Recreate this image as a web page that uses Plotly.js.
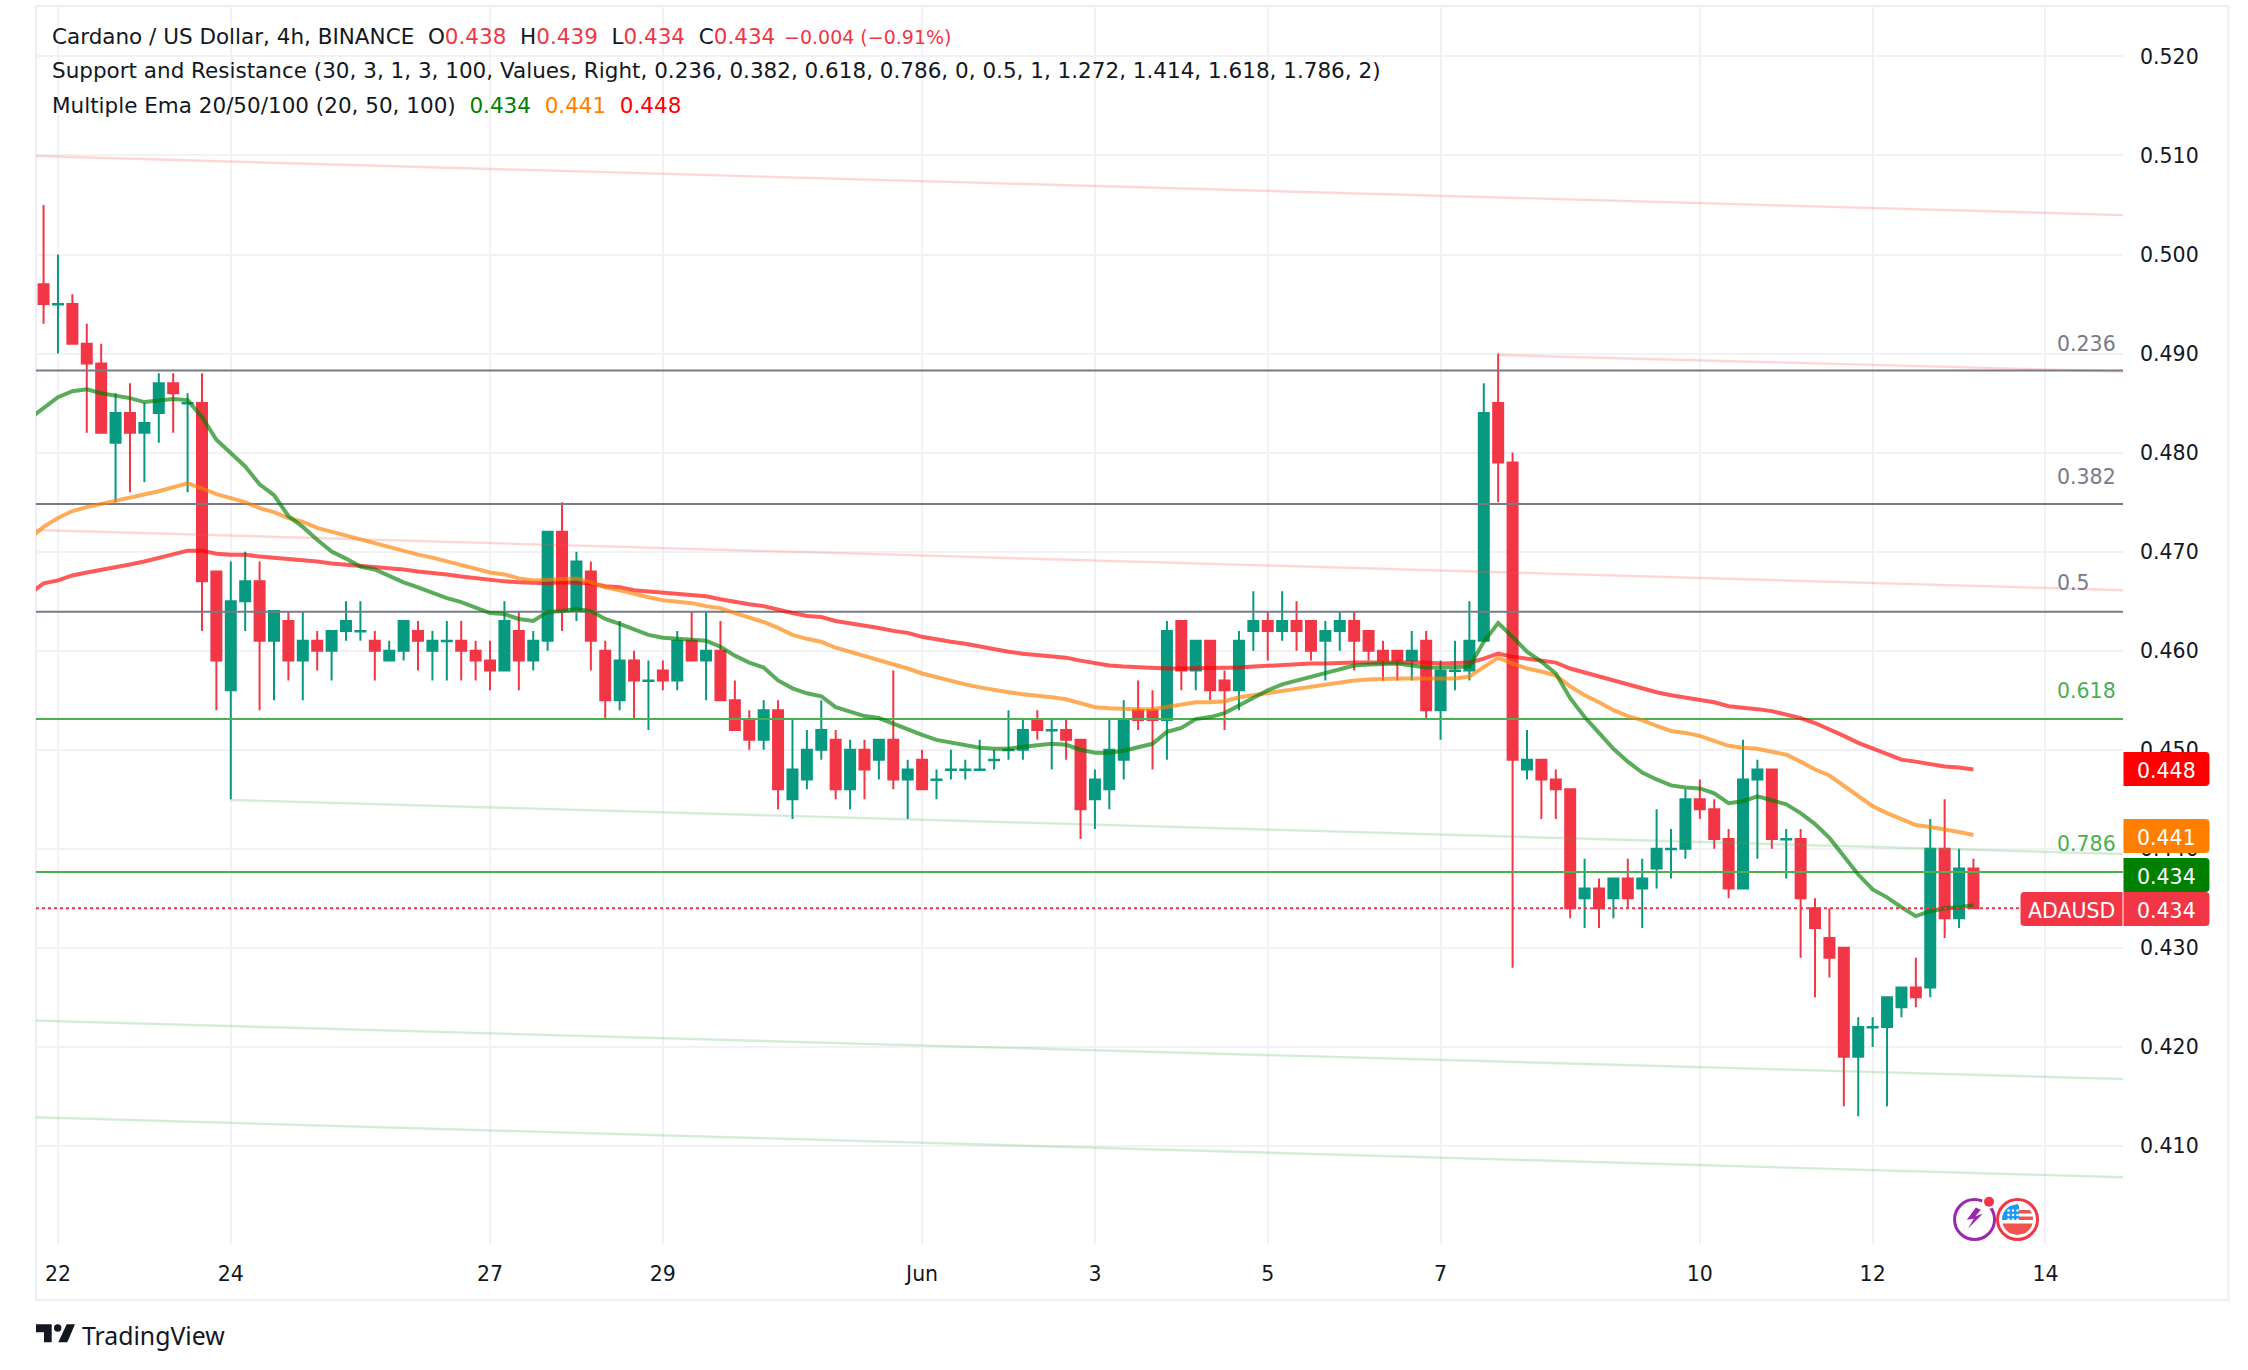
<!DOCTYPE html>
<html><head><meta charset="utf-8">
<script src="https://cdn.plot.ly/plotly-3.0.1.min.js"></script>
<style>html,body{margin:0;padding:0;background:#fff}</style></head>
<body><div id="chart" style="width:2248px;height:1370px"></div>
<script>
// OHLC, 135 four-hour candles
const opens=[.497,.49495,.495,.491,.489,.481,.484,.482,.484,.487,.48495,.485,.468,.456,.465,.467,.461,.463,.459,.461,.460,.462,.46195,.461,.459,.460,.462,.460,.46095,.461,.460,.459,.458,.462,.459,.461,.472,.464,.468,.460,.455,.459,.45695,.458,.457,.461,.459,.460,.455,.453,.451,.454,.445,.447,.450,.451,.446,.450,.449,.451,.447,.449,.44695,.44795,.44795,.44795,.44895,.44995,.450,.453,.45195,.452,.451,.445,.446,.449,.454,.454,.453,.463,.458,.461,.457,.456,.462,.463,.462,.463,.463,.461,.462,.463,.462,.460,.460,.459,.461,.454,.45795,.458,.461,.485,.479,.448,.449,.447,.446,.435,.436,.435,.437,.436,.438,.43995,.440,.445,.444,.441,.436,.447,.448,.44095,.441,.434,.431,.430,.419,.42195,.422,.424,.426,.426,.440,.433,.438];
const highs=[.505,.500,.496,.493,.491,.486,.487,.485,.488,.488,.486,.488,.468,.469,.470,.469,.464,.464,.464,.462,.462,.465,.465,.462,.461,.463,.463,.462,.463,.463,.461,.461,.465,.464,.462,.472,.475,.470,.469,.461,.463,.460,.459,.459,.462,.464,.464,.463,.457,.454,.455,.455,.453,.452,.455,.452,.451,.451,.451,.458,.449,.450,.448,.450,.449,.451,.450,.454,.453,.454,.453,.453,.451,.448,.453,.455,.457,.456,.463,.463,.461,.461,.458,.462,.466,.464,.466,.465,.463,.463,.464,.464,.462,.461,.460,.462,.462,.459,.461,.465,.487,.490,.480,.452,.449,.448,.446,.439,.437,.437,.439,.439,.444,.442,.446,.447,.445,.442,.451,.449,.448,.442,.442,.435,.434,.430,.423,.423,.425,.426,.429,.443,.445,.440,.439];
const lows=[.493,.490,.491,.482,.482,.475,.476,.477,.481,.482,.476,.462,.454,.445,.462,.454,.455,.457,.455,.458,.457,.461,.461,.457,.459,.459,.458,.457,.457,.457,.457,.456,.458,.456,.458,.460,.462,.463,.458,.453,.454,.453,.452,.456,.456,.459,.455,.455,.452,.450,.450,.444,.443,.446,.449,.445,.444,.445,.447,.446,.443,.446,.445,.447,.447,.448,.448,.449,.449,.451,.448,.449,.441,.442,.444,.447,.452,.448,.449,.456,.456,.455,.452,.454,.460,.459,.461,.460,.459,.457,.460,.458,.459,.457,.457,.457,.453,.451,.456,.457,.461,.475,.428,.447,.443,.443,.433,.432,.432,.433,.434,.432,.436,.437,.439,.443,.440,.435,.436,.439,.440,.437,.429,.425,.427,.414,.413,.420,.414,.423,.424,.425,.431,.432,.434];
const closes=[.495,.495,.491,.489,.482,.484,.482,.483,.487,.486,.485,.467,.459,.465,.467,.461,.464,.459,.461,.460,.462,.463,.462,.460,.460,.463,.461,.461,.461,.460,.459,.458,.463,.459,.461,.472,.464,.469,.461,.455,.459,.457,.457,.457,.461,.459,.460,.455,.452,.451,.454,.446,.448,.450,.452,.446,.450,.448,.451,.447,.448,.446,.447,.448,.448,.448,.449,.450,.452,.452,.452,.451,.444,.447,.450,.453,.453,.453,.462,.458,.461,.456,.456,.461,.463,.462,.463,.462,.460,.462,.463,.461,.460,.459,.459,.460,.454,.458,.458,.461,.484,.479,.449,.449,.447,.446,.434,.436,.434,.437,.435,.437,.440,.440,.445,.444,.441,.436,.447,.448,.441,.441,.435,.432,.429,.419,.422,.422,.425,.426,.425,.440,.433,.438,.434];

// Moving averages, one value per bar starting one bar before the first candle
const ema20=[.4834,.4845,.4856,.4862,.4864,.4860,.4858,.4855,.4851,.4853,.4854,.4853,.4836,.4813,.4800,.4786,.4768,.4757,.4736,.4725,.4712,.4700,.4693,.4685,.4682,.4675,.4669,.4664,.4658,.4653,.4649,.4643,.4638,.4637,.4632,.4630,.4639,.4640,.4642,.4640,.4632,.4627,.4622,.4616,.4613,.4612,.4611,.4610,.4604,.4595,.4588,.4583,.4570,.4562,.4557,.4554,.4543,.4539,.4534,.4532,.4526,.4521,.4515,.4510,.4507,.4505,.4502,.4501,.4501,.4503,.4505,.4506,.4505,.4500,.4497,.4497,.4499,.4503,.4506,.4518,.4522,.4531,.4533,.4537,.4545,.4553,.4560,.4566,.4570,.4573,.4577,.4582,.4585,.4586,.4587,.4587,.4585,.4583,.4583,.4583,.4584,.4609,.4628,.4614,.4599,.4589,.4577,.4552,.4533,.4517,.4501,.4488,.4477,.4470,.4464,.4462,.4461,.4456,.4446,.4448,.4453,.4449,.4445,.4436,.4425,.4411,.4393,.4374,.4359,.4351,.4341,.4332,.4337,.4340,.4341,.4343];
const ema50=[.4713,.4725,.4734,.4741,.4745,.4748,.4751,.4755,.4758,.4761,.4765,.4769,.4764,.4758,.4754,.4750,.4744,.4740,.4734,.4730,.4724,.4720,.4716,.4712,.4708,.4704,.4700,.4697,.4694,.4690,.4686,.4683,.4679,.4677,.4673,.4671,.4672,.4673,.4673,.4669,.4664,.4661,.4657,.4654,.4651,.4650,.4648,.4645,.4643,.4638,.4634,.4629,.4623,.4616,.4612,.4609,.4603,.4599,.4594,.4591,.4586,.4582,.4577,.4573,.4569,.4566,.4563,.4560,.4558,.4556,.4555,.4553,.4551,.4547,.4543,.4542,.4541,.4541,.4541,.4543,.4545,.4548,.4548,.4549,.4553,.4555,.4558,.4560,.4562,.4564,.4566,.4568,.4570,.4571,.4572,.4572,.4572,.4572,.4572,.4572,.4574,.4584,.4593,.4587,.4582,.4579,.4575,.4564,.4555,.4548,.4540,.4534,.4530,.4524,.4519,.4517,.4514,.4509,.4504,.4502,.4501,.4498,.4495,.4488,.4480,.4474,.4464,.4453,.4443,.4436,.4430,.4424,.4422,.4420,.4417,.4414];
const ema100=[.4657,.4668,.4671,.4676,.4679,.4682,.4685,.4687,.4690,.4694,.4697,.4701,.4701,.4698,.4697,.4697,.4695,.4694,.4692,.4691,.4690,.4688,.4687,.4686,.4685,.4683,.4682,.4680,.4678,.4677,.4675,.4673,.4671,.4670,.4669,.4668,.4668,.4669,.4669,.4668,.4665,.4664,.4661,.4660,.4658,.4657,.4656,.4655,.4652,.4649,.4647,.4645,.4641,.4638,.4635,.4634,.4630,.4628,.4625,.4623,.4620,.4618,.4614,.4611,.4609,.4607,.4604,.4602,.4599,.4597,.4596,.4595,.4593,.4590,.4587,.4585,.4584,.4583,.4582,.4582,.4582,.4582,.4582,.4582,.4583,.4584,.4585,.4586,.4586,.4587,.4587,.4588,.4588,.4588,.4588,.4589,.4588,.4588,.4587,.4587,.4588,.4592,.4597,.4594,.4592,.4591,.4588,.4582,.4578,.4573,.4569,.4565,.4562,.4558,.4555,.4553,.4551,.4548,.4544,.4543,.4541,.4539,.4536,.4532,.4527,.4521,.4514,.4507,.4501,.4495,.4490,.4488,.4485,.4483,.4482,.4480];

// Support and resistance levels
const levelNames=['0.236','0.382','0.5','0.618','0.786'];
const levelPrices=[.4883,.4748,.46394,.4531,.43766];
const levelLabelPrices=[.4910,.4775,.4668,.4559,.4405];
// Sloped trend lines: [start date, end date] and [start price, end price]
const trendDates=[['2024-05-21 17:54','2024-06-14 21:32'],['2024-05-21 17:54','2024-06-14 21:32'],['2024-06-07 16:00','2024-06-14 21:32'],['2024-05-24 00:00','2024-06-14 21:32'],['2024-05-21 17:54','2024-06-14 21:32'],['2024-05-21 17:54','2024-06-14 21:32']];
const trendPrices=[[.50994,.50398],[.47219,.46611],[.48985,.48819],[.44493,.43947],[.42265,.41676],[.41289,.40684]];
const trendKinds=['r','r','r','g','g','g'];
// Axis ticks
const xTickVals=['2024-05-22','2024-05-24','2024-05-27','2024-05-29','2024-06-01','2024-06-03','2024-06-05','2024-06-07','2024-06-10','2024-06-12','2024-06-14'];
const xTickText=['22','24','27','29','Jun','3','5','7','10','12','14'];
const yTickVals=[.41,.42,.43,.44,.45,.46,.47,.48,.49,.50,.51,.52];

const FONT='"DejaVu Sans"', FS=20.5, LEG=21.5, INK='#131722', RED='#F23645', GRN='#089981', GREY='#787B86', LVL='#4CAF50';
const W=2248,H=1370,L=36,R=2123.5,T=6,B=1244;
const px=x=>(x-L)/(R-L), py=y=>1-(y-T)/(B-T);
const startMs=Date.UTC(2024,4,21,20);
const barTime=i=>new Date(startMs+i*4*3600*1000).toISOString().slice(0,16).replace('T',' ');
const candleX=opens.map((_,i)=>barTime(i));
const emaX=ema20.map((_,i)=>barTime(i-1));
const XR=['2024-05-21 17:54','2024-06-14 21:32'];

const traces=[];
trendPrices.forEach((p,i)=>traces.push({type:'scatter',mode:'lines',x:trendDates[i],y:p,hoverinfo:'skip',
  line:{width:2.4,color:trendKinds[i]==='r'?'rgba(255,82,82,0.24)':'rgba(76,175,80,0.24)'}}));
levelPrices.forEach((p,i)=>traces.push({type:'scatter',mode:'lines',x:XR,y:[p,p],hoverinfo:'skip',
  line:{width:2,color:i<3?GREY:LVL}}));
[[ema100,'rgba(255,0,0,0.65)'],[ema50,'rgba(255,128,0,0.65)'],[ema20,'rgba(0,128,0,0.65)']].forEach(([v,c])=>
  traces.push({type:'scatter',mode:'lines',x:emaX,y:v,line:{width:4,color:c},hoverinfo:'skip'}));
traces.push({type:'candlestick',x:candleX,open:opens,high:highs,low:lows,close:closes,whiskerwidth:0,
  increasing:{line:{color:GRN,width:2},fillcolor:GRN},decreasing:{line:{color:RED,width:2},fillcolor:RED}});

const ann=[];
const txt=(t,x,y,o={})=>ann.push(Object.assign({text:t,xref:'paper',yref:'paper',x:px(x),y:py(y),showarrow:false,xanchor:'left',yanchor:'middle',
  font:{family:FONT,size:LEG,color:INK}},o));
const c=(t,col)=>`<span style="color:${col}">${t}</span>`;
const gap='\u00a0\u00a0';
txt('Cardano / US Dollar, 4h, BINANCE'+gap+'O'+c('0.438',RED)+gap+'H'+c('0.439',RED)+gap+'L'+c('0.434',RED)+gap+'C'+c('0.434',RED),50,37);
txt('\u22120.004 (\u22120.91%)',782,37,{font:{family:FONT,size:19,color:RED}});
txt('Support and Resistance (30, 3, 1, 3, 100, Values, Right, 0.236, 0.382, 0.618, 0.786, 0, 0.5, 1, 1.272, 1.414, 1.618, 1.786, 2)',50,71);
txt('Multiple Ema 20/50/100 (20, 50, 100)'+gap+c('0.434','#008000')+gap+c('0.441','#FF8000')+gap+c('0.448','#FF0000'),50,105);
levelNames.forEach((n,i)=>ann.push({text:n,xref:'paper',yref:'y',x:px(2055),y:levelLabelPrices[i],showarrow:false,xanchor:'left',yanchor:'middle',
  font:{family:FONT,size:FS,color:i<3?GREY:LVL}}));

// Rounded price tags
const tagPath=(x0,x1,y0,y1,rl,rr)=>{
  const P=(x,y)=>px(x)+','+py(y);
  return 'M'+P(x0+rl,y0)+'L'+P(x1-rr,y0)+'Q'+P(x1,y0)+' '+P(x1,y0+rr)+'L'+P(x1,y1-rr)+'Q'+P(x1,y1)+' '+P(x1-rr,y1)+'L'+P(x0+rl,y1)+'Q'+P(x0,y1)+' '+P(x0,y1-rl)+'L'+P(x0,y0+rl)+'Q'+P(x0,y0)+' '+P(x0+rl,y0)+'Z';};
const tagShapes=[];
const box=(t,col,x,w,yc,rl,rr)=>{
  tagShapes.push({type:'path',xref:'paper',yref:'paper',path:tagPath(x,x+w,yc-17,yc+17,rl,rr),fillcolor:col,line:{width:0},layer:'above'});
  ann.push({text:t,xref:'paper',yref:'paper',x:px(x+w/2),y:py(yc),yshift:-1.5,showarrow:false,xanchor:'center',yanchor:'middle',font:{family:FONT,size:FS,color:'#fff'}});};
box('0.448','#FF0000',2124,86,769,0,4);
box('0.441','#FF8000',2124,86,836,0,4);
box('0.434','#008000',2124,86,875,0,4);
box('0.434',RED,2124,86,909,0,4);
box('ADAUSD',RED,2021,102,909,4,0);
txt('TradingView',80,1335,{font:{family:'"Noto Sans"',size:24.8,color:INK}});

const poly=pts=>'M'+pts.map(p=>px(p[0])+','+py(p[1])).join('L')+'Z';
const paperPath=(pts,col)=>({type:'path',xref:'paper',yref:'paper',path:poly(pts),fillcolor:col,line:{width:0},layer:'above'});
const disc=(cx,cy,r,fill,stroke,w)=>({type:'circle',xref:'paper',yref:'paper',x0:px(cx-r),x1:px(cx+r),y0:py(cy+r),y1:py(cy-r),fillcolor:fill,line:{width:w||0,color:stroke||'rgba(0,0,0,0)'},layer:'above'});
const band=(cx,cy,r,y1,y2,x1,x2,col)=>{const a=[],b=[];for(let k=0;k<=8;k++){const y=y1+(y2-y1)*k/8,s=Math.sqrt(Math.max(0,r*r-y*y));a.push([cx+Math.max(x1,-s),cy+y]);b.unshift([cx+Math.min(x2,s),cy+y]);}return paperPath(a.concat(b),col);};
const FX=2018,FY=1219.5,PX=1975,PY=1219.5;
const stars=[];
[-9,-4.5,0].forEach(dy=>[-9,-4.5,0].forEach(dx=>stars.push(disc(FX+dx,FY+dy,1.3,'#fff'))));
const shapes=[
 {type:'rect',xref:'paper',yref:'paper',x0:px(36),x1:px(2229),y0:py(6),y1:py(1300),line:{width:2,color:'#ECEEF3'},fillcolor:'rgba(0,0,0,0)',layer:'below'},
 {type:'line',xref:'paper',yref:'y',x0:0,x1:px(2021),y0:.434,y1:.434,line:{width:2,color:RED,dash:'3px,3px'},layer:'above'},
 ...tagShapes,
 // event icons
 disc(PX,PY,20,'#fff','#9C27B0',3),
 paperPath([[PX+1.3,PY-12],[PX-7.7,PY+.3],[PX-.7,PY-.7],[PX-6.7,PY+9.3],[PX+8.3,PY-5.7],[PX+.8,PY-3.2],[PX+6.3,PY-9.7]],'#9C27B0'),
 disc(PX+14.5,PY-17.7,7,'#fff'),disc(PX+14.5,PY-17.7,5,RED),
 disc(FX,FY,20,'#fff',RED,3),
 band(FX,FY,15.5,-9.5,-6,1.5,15.5,'#F05350'),
 band(FX,FY,15.5,-3,0.5,1.5,15.5,'#F05350'),
 band(FX,FY,15.5,-15.5,0.5,-15.5,1.5,'#2196F3'),
 band(FX,FY,15.5,4,15.5,-15.5,15.5,'#F05350'),
 ...stars,
 // logo
 paperPath([[36,1324.3],[51.7,1324.3],[51.7,1342.3],[44,1342.3],[44,1332.3],[36,1332.3]],INK),
 disc(57.7,1328,3.7,INK),
 paperPath([[66.7,1324.3],[75,1324.3],[67.3,1342.3],[58.3,1342.3]],INK)
];

Plotly.newPlot('chart',traces,{
  width:W,height:H,margin:{l:L,r:W-R,t:T,b:H-B,pad:0},paper_bgcolor:'#fff',plot_bgcolor:'#fff',showlegend:false,dragmode:false,
  boxgap:0.17,boxgroupgap:0.165,
  font:{family:FONT,size:FS,color:INK},
  xaxis:{type:'date',range:XR,tickmode:'array',tickvals:xTickVals,ticktext:xTickText,tickangle:0,showgrid:true,gridcolor:'#F2F2F4',gridwidth:2,zeroline:false,showline:false,ticks:'',ticklabelstandoff:15,rangeslider:{visible:false},tickfont:{family:FONT,size:FS,color:INK}},
  yaxis:{side:'right',range:[.4001,.52509],tickmode:'array',tickvals:yTickVals,tickformat:'.3f',showgrid:true,gridcolor:'#F2F2F4',gridwidth:2,zeroline:false,showline:false,ticks:'',ticklabelstandoff:16,ticklabelshift:-1.5,tickfont:{family:FONT,size:FS,color:INK}},
  shapes:shapes,annotations:ann
},{displayModeBar:false,staticPlot:true});
</script></body></html>
